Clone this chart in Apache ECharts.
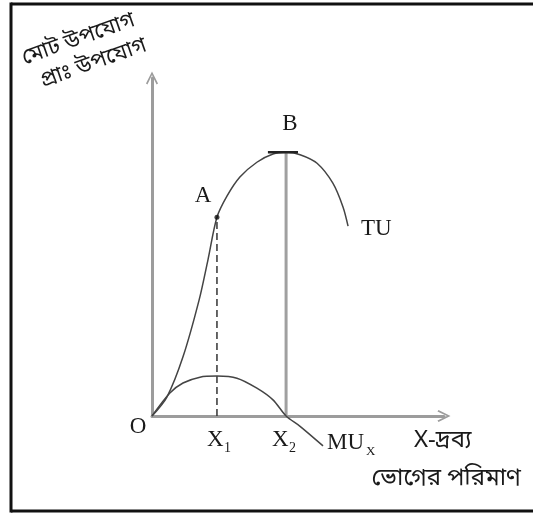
<!DOCTYPE html>
<html>
<head>
<meta charset="utf-8">
<script src="https://cdn.jsdelivr.net/npm/echarts@6/dist/echarts.min.js"></script>
<style>
  html, body { margin: 0; padding: 0; background: #fff; overflow: hidden; }
  #main { width: 533px; height: 513px; }
</style>
</head>
<body>
<div id="main"></div>
<script>
// TU curve points (quantity, utility)
var tuPoints = [
  [0, 0], [0.5, 0.55], [1.04, 1.72], [1.58, 3.37], [1.88, 4.55], [2.18, 5.78],
  [2.52, 6.4], [2.95, 6.95], [3.52, 7.38], [4.06, 7.62], [4.5, 7.67],
  [4.97, 7.6], [5.54, 7.35], [6.07, 6.77], [6.41, 6.08], [6.58, 5.52]
];
// MU curve points
var muPoints = [
  [0, 0], [0.6, 0.67], [1.04, 0.96], [1.61, 1.13], [2.18, 1.16], [2.85, 1.1],
  [3.52, 0.81], [4.06, 0.47], [4.5, 0], [4.97, -0.3], [5.74, -0.87]
];
var pointA = [2.18, 5.78];
var pointB = [4.5, 7.67];
var tangentB = [[3.89, 7.67], [4.9, 7.67]];

var serif = '"Liberation Serif", "DejaVu Serif", serif';
var beng = '"Noto Sans Bengali", "Lohit Bengali", "Noto Sans", sans-serif';
var chevron = 'path://M5,0 L10,10 L8.8,10.8 L5,3 L1.2,10.8 L0,10 Z';

function txt(s, x, y, font, align, rot) {
  return { type: 'text', x: x, y: y, rotation: rot || 0,
    style: { text: s, font: font, fill: '#1a1a1a', textAlign: align || 'center', textVerticalAlign: 'middle' } };
}
function edge(x1, y1, x2, y2) {
  return { type: 'line', shape: { x1: x1, y1: y1, x2: x2, y2: y2 },
    style: { stroke: '#111', lineWidth: 3 } };
}

var myChart = echarts.init(document.getElementById('main'));
myChart.setOption({
  animation: false,
  grid: { left: 152, right: 89, top: 78, bottom: 97 },
  xAxis: {
    type: 'value', min: 0, max: 9.8,
    splitLine: { show: false }, axisTick: { show: false }, axisLabel: { show: false },
    axisLine: { show: true, symbol: ['none', chevron], symbolSize: [14, 13],
      lineStyle: { color: '#9c9c9c', width: 3 } }
  },
  yAxis: {
    type: 'value', min: 0, max: 9.83,
    splitLine: { show: false }, axisTick: { show: false }, axisLabel: { show: false },
    axisLine: { show: true, symbol: ['none', chevron], symbolSize: [14, 13],
      lineStyle: { color: '#9c9c9c', width: 3 } }
  },
  series: [
    {
      // vertical through B
      type: 'line', data: [[pointB[0], 0], pointB], symbol: 'none',
      lineStyle: { color: '#a0a0a0', width: 3 }, z: 1
    },
    {
      // dashed drop from A
      type: 'line', data: [[pointA[0], 0], pointA], symbol: 'none',
      lineStyle: { color: '#333', width: 1.5, type: [7, 4] }, z: 1
    },
    {
      name: 'TU', type: 'line', data: tuPoints, smooth: 0.3, symbol: 'none',
      lineStyle: { color: '#444', width: 1.5 }, z: 3
    },
    {
      name: 'MU', type: 'line', data: muPoints, smooth: 0.3, symbol: 'none', clip: false,
      lineStyle: { color: '#444', width: 1.5 }, z: 3
    },
    {
      type: 'line', data: tangentB, symbol: 'none',
      lineStyle: { color: '#222', width: 2.5 }, z: 4
    },
    {
      type: 'scatter', data: [pointA], symbolSize: 5,
      itemStyle: { color: '#111' }, z: 5
    }
  ],
  graphic: [
    edge(11, 4, 533, 4),
    edge(11, 2.5, 11, 512.5),
    edge(11, 511, 533, 511),
    txt('মোট উপযোগ', 79, 41, '22px ' + beng, 'center', 0.34),
    txt('প্রাঃ উপযোগ', 94, 65, '22px ' + beng, 'center', 0.34),
    txt('B', 290, 124, '23px ' + serif),
    txt('A', 203, 196, '23px ' + serif),
    txt('TU', 361, 229, '23px ' + serif, 'left'),
    txt('O', 138, 427, '23px ' + serif),
    txt('X', 207, 440, '23px ' + serif, 'left'),
    txt('1', 224, 448, '14px ' + serif, 'left'),
    txt('X', 272, 440, '23px ' + serif, 'left'),
    txt('2', 289, 448, '14px ' + serif, 'left'),
    txt('MU', 327, 443, '23px ' + serif, 'left'),
    txt('X', 366, 452, '13px ' + serif, 'left'),
    txt('X-দ্রব্য', 414, 442, '24px ' + beng, 'left'),
    txt('ভোগের পরিমাণ', 521, 480, '24px ' + beng, 'right')
  ]
});
</script>
</body>
</html>
